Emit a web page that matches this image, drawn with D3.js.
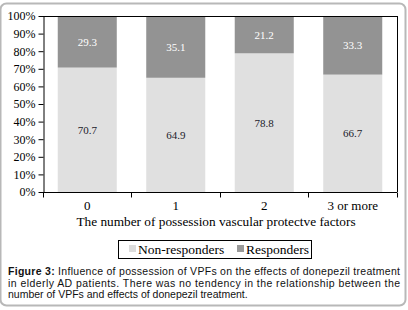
<!DOCTYPE html>
<html>
<head>
<meta charset="utf-8">
<script src="https://cdn.jsdelivr.net/npm/d3@7"></script>
<style>
  html, body { margin: 0; padding: 0; background: #fff; }
  svg { display: block; }
</style>
</head>
<body>
<div id="chart"></div>
<script>
// Data
const categories = ["0", "1", "2", "3 or more"];
const nonResponders = [70.7, 64.9, 78.8, 66.7];
const responders = [29.3, 35.1, 21.2, 33.3];
const yTicks = [0, 10, 20, 30, 40, 50, 60, 70, 80, 90, 100];
const seriesNames = ["Non-responders", "Responders"];
const captionLines = [
    ["Figure 3:", " Influence of possession of VPFs on the effects of donepezil treatment"],
    ["", "in elderly AD patients. There was no tendency in the relationship between the"],
    ["", "number of VPFs and effects of donepezil treatment."]
];

const width = 408, height = 310;
const margin = { top: 16, right: 11, left: 43, bottom: 118 };
const innerWidth = width - margin.left - margin.right;
const innerHeight = height - margin.top - margin.bottom;
const colors = ["#e0e0e0", "#939393"];
const serif = "'Liberation Serif', 'Times New Roman', serif";

const root = d3.select("#chart").append("svg")
    .attr("width", width)
    .attr("height", height);

// outer frame of the figure (grey, rounded, slightly darker bottom/right)
root.append("rect")
    .attr("x", 0.5).attr("y", 3.5)
    .attr("width", 405).attr("height", 302)
    .attr("rx", 6)
    .attr("fill", "none")
    .attr("stroke", "#b8b8b8")
    .attr("stroke-width", 2);

const svg = root.append("g")
    .attr("transform", `translate(${margin.left},${margin.top})`);

// scales
const x = d3.scaleBand()
    .domain(categories)
    .range([0, innerWidth])
    .paddingInner(0.333)
    .paddingOuter(0.1667);

const y = d3.scaleLinear()
    .domain([0, 100])
    .range([innerHeight, 0]);

// stacked data
const rows = categories.map((c, i) => ({ cat: c, "Non-responders": nonResponders[i], "Responders": responders[i] }));
const stacked = d3.stack().keys(seriesNames)(rows);

// bars
svg.append("g")
    .selectAll("g")
    .data(stacked)
    .enter().append("g")
    .attr("fill", (d, i) => colors[i])
    .selectAll("rect")
    .data(d => d)
    .enter().append("rect")
    .attr("x", d => x(d.data.cat))
    .attr("y", d => y(d[1]))
    .attr("width", x.bandwidth())
    .attr("height", d => y(d[0]) - y(d[1]));

// value labels
svg.append("g")
    .selectAll("g")
    .data(stacked)
    .enter().append("g")
    .attr("fill", (d, i) => i === 0 ? "#1b1b2a" : "#ffffff")
    .selectAll("text")
    .data(d => d)
    .enter().append("text")
    .attr("x", d => x(d.data.cat) + x.bandwidth() / 2)
    .attr("y", d => (y(d[0]) + y(d[1])) / 2)
    .attr("dy", "0.35em")
    .attr("text-anchor", "middle")
    .style("font-family", serif)
    .style("font-size", "11px")
    .text(d => (d[1] - d[0]).toFixed(1));

// plot frame (top and right)
svg.append("line")
    .attr("x1", 0).attr("x2", innerWidth)
    .attr("y1", 0.5).attr("y2", 0.5)
    .attr("stroke", "#000");
svg.append("line")
    .attr("x1", innerWidth + 0.5).attr("x2", innerWidth + 0.5)
    .attr("y1", 0).attr("y2", innerHeight)
    .attr("stroke", "#000");

// Y axis
const yAxis = svg.append("g")
    .attr("transform", "translate(0.5,0)")
    .call(d3.axisLeft(y).tickValues(yTicks).tickFormat(d => d + "%").tickSize(5).tickSizeOuter(0));
yAxis.select(".domain").attr("stroke", "#000");
yAxis.selectAll("text")
    .attr("x", -8)
    .attr("fill", "#000")
    .style("font-family", serif)
    .style("font-size", "12px");

// X axis: ticks sit at band boundaries
const bounds = d3.range(categories.length + 1).map(i => i * x.step());
const xg = svg.append("g")
    .attr("transform", `translate(0,${innerHeight + 0.5})`);
xg.append("line")
    .attr("x1", 0).attr("x2", innerWidth)
    .attr("stroke", "#000");
xg.selectAll(".tk")
    .data(bounds)
    .enter().append("line")
    .attr("class", "tk")
    .attr("x1", d => Math.round(d) + 0.5).attr("x2", d => Math.round(d) + 0.5)
    .attr("y1", 0).attr("y2", 5)
    .attr("stroke", "#000");
xg.selectAll("text")
    .data(categories)
    .enter().append("text")
    .attr("x", d => x(d) + x.bandwidth() / 2)
    .attr("y", 17)
    .attr("text-anchor", "middle")
    .style("font-family", serif)
    .style("font-size", "13px")
    .text(d => d);

// axis title
svg.append("text")
    .attr("x", innerWidth / 2 - 4)
    .attr("y", innerHeight + 34)
    .attr("text-anchor", "middle")
    .style("font-family", serif)
    .style("font-size", "13.3px")
    .text("The number of possession vascular protectve factors");

// legend
const legend = root.append("g").attr("transform", "translate(118,240)");
legend.append("rect")
    .attr("x", 0.5).attr("y", 0.5)
    .attr("width", 193).attr("height", 18)
    .attr("fill", "#fff")
    .attr("stroke", "#000");
const legendX = [11, 119];
seriesNames.forEach((name, i) => {
    legend.append("rect")
        .attr("x", legendX[i]).attr("y", 5)
        .attr("width", 7).attr("height", 7)
        .attr("fill", i === 0 ? "#dcdcdc" : "#999999");
    legend.append("text")
        .attr("x", legendX[i] + 9).attr("y", 13.5)
        .style("font-family", serif)
        .style("font-size", "13.5px")
        .text(name);
});

// caption
const caption = root.append("g");
captionLines.forEach((parts, i) => {
    const t = caption.append("text")
        .attr("x", 8)
        .attr("y", 275 + i * 11.5)
        .style("font-family", "'Liberation Sans', Arial, sans-serif")
        .style("font-size", "10.5px")
        .attr("fill", "#111");
    if (parts[0]) t.append("tspan").style("font-weight", "bold").text(parts[0]);
    t.append("tspan").text(parts[1]);
    if (i < 2) t.attr("textLength", 392).attr("lengthAdjust", "spacing");
});
</script>
</body>
</html>
